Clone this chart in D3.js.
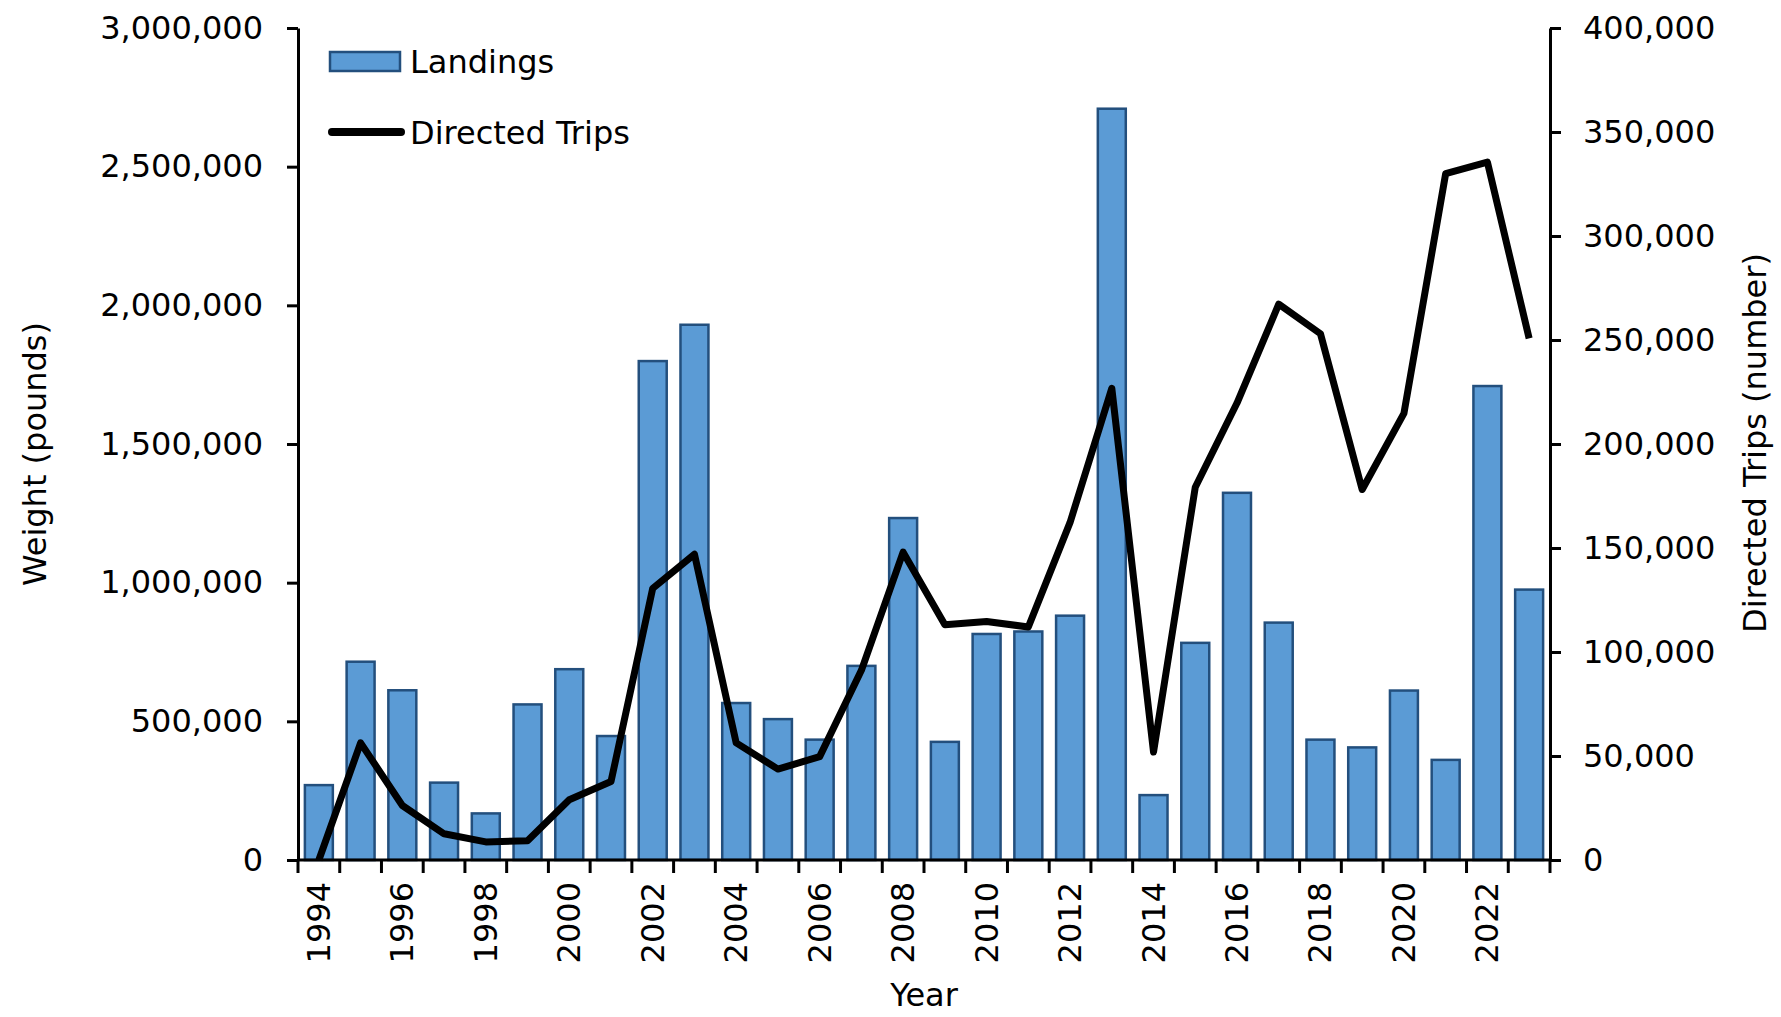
<!DOCTYPE html>
<html>
<head>
<meta charset="utf-8">
<script src="https://cdn.jsdelivr.net/npm/d3@7"></script>
<style>
  html, body { margin: 0; padding: 0; background: #fff; }
  svg text { font-family: 'DejaVu Sans', Verdana, sans-serif; fill: #000; }
</style>
</head>
<body>
<svg id="chart"></svg>
<script>
// ── data ─────────────────────────────────────────────
const years = d3.range(1994, 2024);
const landings = [
  270000, 715000, 612000, 279000, 168000, 561000, 688000, 447000, 1799000, 1930000,
  566000, 508000, 434000, 700000, 1233000, 426000, 815000, 824000, 881000, 2709000,
  234000, 783000, 1324000, 856000, 434000, 406000, 611000, 361000, 1709000, 975000
];
const directedTrips = [
  0, 56300, 26200, 12600, 8700, 9300, 29000, 37700, 130600, 147000,
  56300, 43700, 49700, 91200, 148000, 113100, 114700, 112000, 162300, 226800,
  51900, 179200, 219700, 267200, 253000, 178100, 214700, 330000, 335500, 250800
];
const leftTicks = [0, 500000, 1000000, 1500000, 2000000, 2500000, 3000000];
const rightTicks = [0, 50000, 100000, 150000, 200000, 250000, 300000, 350000, 400000];
const yearLabels = years.filter(y => (y - 1994) % 2 === 0);

// ── layout ───────────────────────────────────────────
const W = 1781, H = 1017;
const m = { left: 298, right: 1550, top: 28, bottom: 860 };
const fmt = d3.format(',');

const svg = d3.select('#chart').attr('width', W).attr('height', H);

const x = d3.scaleBand().domain(years).range([m.left, m.right]).paddingInner(0.33).paddingOuter(0.165);
const xEdge = d3.scaleLinear().domain([0, years.length]).range([m.left, m.right]);
const yL = d3.scaleLinear().domain([0, 3000000]).range([m.bottom, m.top]);
const yR = d3.scaleLinear().domain([0, 400000]).range([m.bottom, m.top]);

// bars
svg.append('g').selectAll('rect')
  .data(years)
  .enter().append('rect')
  .attr('x', d => x(d))
  .attr('width', x.bandwidth())
  .attr('y', (d, i) => yL(landings[i]))
  .attr('height', (d, i) => m.bottom - yL(landings[i]))
  .attr('fill', '#5b9bd5')
  .attr('stroke', '#234f7d')
  .attr('stroke-width', 2.5);

// line
const line = d3.line()
  .x((d, i) => x(years[i]) + x.bandwidth() / 2)
  .y(d => yR(d));
svg.append('path')
  .datum(directedTrips)
  .attr('d', line)
  .attr('fill', 'none')
  .attr('stroke', '#000')
  .attr('stroke-width', 7)
  .attr('stroke-linejoin', 'round')
  .attr('stroke-linecap', 'butt');

// left axis
const axL = svg.append('g')
  .attr('transform', `translate(${m.left},0)`)
  .call(d3.axisLeft(yL).tickValues(leftTicks).tickFormat(fmt).tickSize(11).tickPadding(24).tickSizeOuter(0));
axL.select('.domain').attr('stroke', '#000').attr('stroke-width', 3);
axL.selectAll('.tick line').attr('stroke-width', 3);
axL.selectAll('text').style('font-size', '32px');

// right axis
const axR = svg.append('g')
  .attr('transform', `translate(${m.right},0)`)
  .call(d3.axisRight(yR).tickValues(rightTicks).tickFormat(fmt).tickSize(11).tickPadding(22).tickSizeOuter(0));
axR.select('.domain').attr('stroke', '#000').attr('stroke-width', 3);
axR.selectAll('.tick line').attr('stroke-width', 3);
axR.selectAll('text').style('font-size', '32px');

// x axis: baseline + ticks at category edges
const axX = svg.append('g');
axX.append('line')
  .attr('x1', m.left - 1).attr('x2', m.right + 1)
  .attr('y1', m.bottom).attr('y2', m.bottom)
  .attr('stroke', '#000').attr('stroke-width', 3);
axX.selectAll('.xt')
  .data(d3.range(years.length + 1))
  .enter().append('line')
  .attr('x1', d => xEdge(d)).attr('x2', d => xEdge(d))
  .attr('y1', m.bottom).attr('y2', m.bottom + 13)
  .attr('stroke', '#000').attr('stroke-width', 3);
axX.selectAll('.xl')
  .data(yearLabels)
  .enter().append('text')
  .attr('transform', d => `translate(${x(d) + x.bandwidth() / 2 + 11},${m.bottom + 22}) rotate(-90)`)
  .attr('text-anchor', 'end')
  .style('font-size', '32px')
  .text(d => d);

// axis titles
svg.append('text')
  .attr('transform', `translate(46,454) rotate(-90)`)
  .attr('text-anchor', 'middle')
  .style('font-size', '32px')
  .text('Weight (pounds)');
svg.append('text')
  .attr('transform', `translate(1766,443) rotate(-90)`)
  .attr('text-anchor', 'middle')
  .style('font-size', '32px')
  .text('Directed Trips (number)');
svg.append('text')
  .attr('x', 924).attr('y', 1006)
  .attr('text-anchor', 'middle')
  .style('font-size', '32px')
  .text('Year');

// legend
const lg = svg.append('g');
lg.append('rect')
  .attr('x', 330).attr('y', 52).attr('width', 70).attr('height', 19)
  .attr('fill', '#5b9bd5').attr('stroke', '#234f7d').attr('stroke-width', 2.5);
lg.append('text').attr('x', 410).attr('y', 73).style('font-size', '32px').text('Landings');
lg.append('line')
  .attr('x1', 332).attr('x2', 401).attr('y1', 132).attr('y2', 132)
  .attr('stroke', '#000').attr('stroke-width', 8).attr('stroke-linecap', 'round');
lg.append('text').attr('x', 410).attr('y', 144).style('font-size', '32px').text('Directed Trips');
</script>
</body>
</html>
